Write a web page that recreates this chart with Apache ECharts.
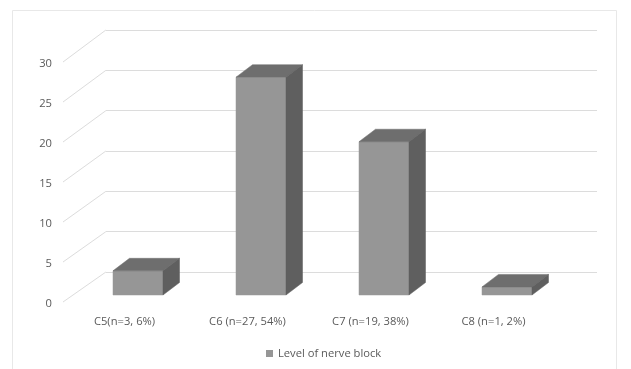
<!DOCTYPE html>
<html>
<head>
<meta charset="utf-8">
<style>html,body{margin:0;padding:0;background:#fff}#chart{width:631px;height:369px}</style>
<script src="https://cdn.jsdelivr.net/npm/echarts@6/dist/echarts.min.js"></script>
</head>
<body>
<div id="chart"></div>
<script>
const categories = ['C5(n=3, 6%)', 'C6 (n=27, 54%)', 'C7 (n=19, 38%)', 'C8 (n=1, 2%)'];
const nerveBlock = [3, 27, 19, 1];
const yTicks = [0, 5, 10, 15, 20, 25, 30];
const seriesName = 'Level of nerve block';

const chart = echarts.init(document.getElementById('chart'));
const GRID_LINE = '#dcdcdc', TEXT = '#5a5a5a';
const DEPTH_X = 16.5, DEPTH_Y = 12.5, BAR_W = 50;

// Shared value scale; the box has a back wall, a front axis plane and a bar plane,
// plus one plane carrying the value labels just below the front edge ends.
const yAxisBase = { type: 'value', min: 0, max: 30, interval: 5, axisLine: { show: false }, axisTick: { show: false } };
const xAxisBase = { type: 'category', data: categories, axisLine: { show: false }, axisTick: { show: false } };

// One box: front face, top face, side face, all anchored on the value's coordinate.
function renderBox(params, api) {
  const base = api.coord([api.value(0), 0]);
  const top = api.coord([api.value(0), api.value(1)]);
  const l = base[0] - BAR_W / 2, r = base[0] + BAR_W / 2;
  const poly = (points, fill) => ({ type: 'polygon', shape: { points }, style: { fill, stroke: fill, lineWidth: 0.5 } });
  return {
    type: 'group',
    children: [
      poly([[l, top[1]], [r, top[1]], [r, base[1]], [l, base[1]]], '#969696'),
      poly([[l, top[1]], [l + DEPTH_X, top[1] - DEPTH_Y], [r + DEPTH_X, top[1] - DEPTH_Y], [r, top[1]]], '#6e6e6e'),
      poly([[r, top[1]], [r + DEPTH_X, top[1] - DEPTH_Y], [r + DEPTH_X, base[1] - DEPTH_Y], [r, base[1]]], '#5f5f5f')
    ]
  };
}

// Side-wall edge: runs from each tick on the front plane to the same tick on the back wall.
function renderEdge(params, api) {
  const v = api.value(1);
  const front = api.coord([0, v]);
  const back = chart.convertToPixel({ gridIndex: 0 }, [0, v]);
  const bandW = api.size([1, 0])[0];
  return {
    type: 'line',
    shape: { x1: front[0] - bandW / 2, y1: front[1], x2: back[0] - bandW / 2, y2: back[1] },
    style: { stroke: GRID_LINE, lineWidth: 1 }
  };
}

const labelFont = { fontFamily: 'Open Sans', color: TEXT };

chart.setOption({
  animation: false,
  backgroundColor: '#fff',
  graphic: [{
    type: 'rect', silent: true, z: -1,
    shape: { x: 12.5, y: 10.5, width: 604, height: 370 },
    style: { fill: 'none', stroke: '#e8e8e8', lineWidth: 1 }
  }],
  legend: {
    show: true, left: 261, top: 343,
    itemWidth: 7, itemHeight: 7, icon: 'rect',
    textStyle: { ...labelFont, fontSize: 11.2 },
    data: [seriesName]
  },
  grid: [
    { left: 106, top: 30, width: 491, height: 242 },
    { left: 63, top: 62, width: 492, height: 240 },
    { left: 76.5, top: 53, width: 492, height: 242 },
    { left: 63, top: 64, width: 492, height: 240 }
  ],
  xAxis: [
    { ...xAxisBase, gridIndex: 0, axisLabel: { show: false } },
    { ...xAxisBase, gridIndex: 1, axisLabel: { ...labelFont, margin: 14, interval: 0, fontSize: 11.2 } },
    { ...xAxisBase, gridIndex: 2, axisLabel: { show: false } },
    { ...xAxisBase, gridIndex: 3, axisLabel: { show: false } }
  ],
  yAxis: [
    { ...yAxisBase, gridIndex: 0, axisLabel: { show: false }, splitLine: { show: true, lineStyle: { color: GRID_LINE, width: 1 } } },
    { ...yAxisBase, gridIndex: 1, axisLabel: { show: false }, splitLine: { show: false } },
    { ...yAxisBase, gridIndex: 2, axisLabel: { show: false }, splitLine: { show: false } },
    { ...yAxisBase, gridIndex: 3, splitLine: { show: false }, axisLabel: { ...labelFont, margin: 11, fontSize: 11.2 } }
  ],
  series: [
    {
      type: 'custom', name: 'edges', xAxisIndex: 1, yAxisIndex: 1, silent: true, z: 1,
      renderItem: renderEdge, encode: { x: 0, y: 1 },
      data: yTicks.map(t => [0, t])
    },
    {
      type: 'custom', name: seriesName, xAxisIndex: 2, yAxisIndex: 2, z: 3,
      itemStyle: { color: '#969696' },
      renderItem: renderBox, encode: { x: 0, y: 1 },
      data: nerveBlock.map((v, i) => [i, v])
    }
  ]
});
</script>
</body>
</html>
